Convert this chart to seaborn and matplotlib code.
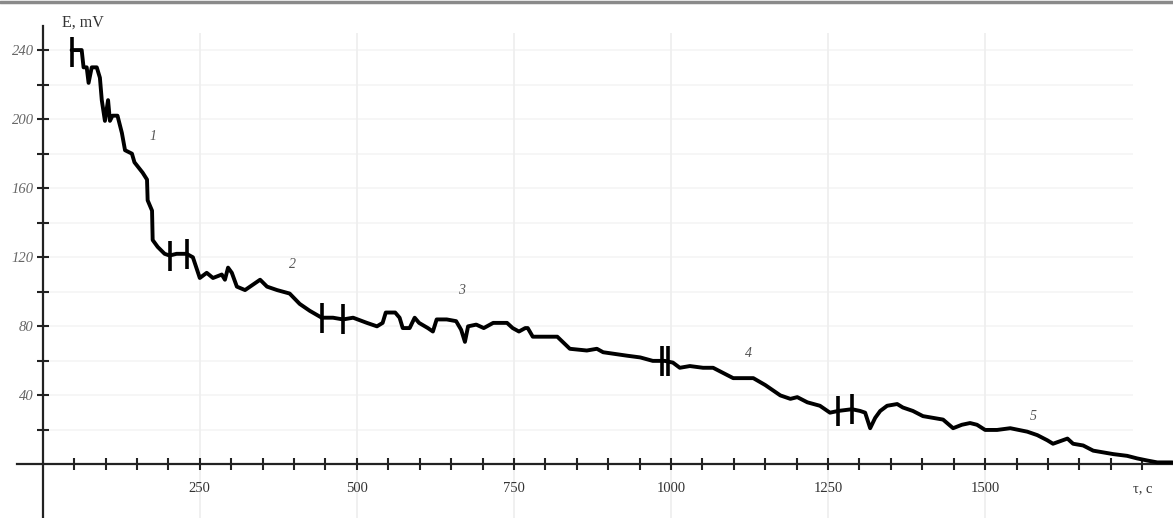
#!/bin/env python3

"""
Potential vs time curve with stage boundaries, drawn with seaborn
"""

import numpy as np
import pandas as pd
import matplotlib.pyplot as plt
from matplotlib.lines import Line2D
import seaborn as sns
sns.set_style('white')

# time, s
time_s = [46, 62, 65, 70, 73, 78, 86, 91, 94, 99, 104, 107, 111, 119, 126, 131,
          142, 146, 159, 166, 167, 174, 175, 183, 194, 202, 213, 229, 239, 250,
          261, 271, 285, 290, 295, 301, 309, 322, 334, 346, 357, 373, 393, 409,
          425, 444, 462, 478, 494, 516, 532, 541, 546, 561, 568, 573, 584, 592,
          599, 613, 621, 627, 643, 658, 666, 672, 677, 690, 702, 717, 739, 748,
          758, 768, 772, 780, 819, 839, 866, 882, 892, 930, 951, 971, 990, 1003,
          1014, 1030, 1051, 1067, 1083, 1099, 1115, 1131, 1150, 1174, 1190, 1201,
          1217, 1237, 1253, 1266, 1288, 1301, 1309, 1317, 1325, 1333, 1344, 1360,
          1369, 1385, 1401, 1417, 1433, 1449, 1463, 1476, 1487, 1500, 1519, 1540,
          1567, 1583, 1599, 1608, 1631, 1640, 1656, 1672, 1688, 1704, 1726, 1742,
          1758, 1774, 1798]
# potential, mV
potential_mv = [240, 240, 230, 230, 221, 230, 230, 224, 211, 199, 211, 199, 202,
                202, 192, 182, 180, 175, 169, 165, 153, 147, 130, 126, 122, 121,
                122, 122, 120, 108, 111, 108, 110, 107, 114, 111, 103, 101, 104,
                107, 103, 101, 99, 93, 89, 85, 85, 84, 85, 82, 80, 82, 88, 88, 85,
                79, 79, 85, 82, 79, 77, 84, 84, 83, 78, 71, 80, 81, 79, 82, 82, 79,
                77, 79, 79, 74, 74, 67, 66, 67, 65, 63, 62, 60, 60, 59, 56, 57, 56,
                56, 53, 50, 50, 50, 46, 40, 38, 39, 36, 34, 30, 31, 32, 31, 30, 21,
                27, 31, 34, 35, 33, 31, 28, 27, 26, 21, 23, 24, 23, 20, 20, 21, 19,
                17, 14, 12, 15, 12, 11, 8, 7, 6, 5, 3.5, 2.3, 1.2, 1.2]

# stage boundary marks
boundary_t = [46, 202, 229, 444, 478, 986, 995, 1266, 1288]
boundary_mv = [239, 121, 122, 85, 84, 60, 60, 31, 32]

# stage numbers and where they sit
stage_labels = ['1', '2', '3', '4', '5']
stage_t = [175, 398, 667, 1123, 1576]
stage_mv = [190, 116, 101, 64, 28]

x_major = [250, 500, 750, 1000, 1250, 1500, 1750]
x_major_labels = ['250', '500', '750', '1000', '1250', '1500', 'τ, c']
y_major = [40, 80, 120, 160, 200, 240]

df = pd.DataFrame({'t': time_s, 'E': potential_mv})

plt.rcParams['font.family'] = ['Liberation Serif', 'DejaVu Serif']

fig = plt.figure(figsize=(11.73, 5.18), dpi=100)
ax = fig.add_axes([0, 0, 1, 1])
ax.set_xlim(-68, 1799)
ax.set_ylim(-31, 269)

# faint grid
ax.hlines(np.arange(20, 260, 20), 0, 1735, color='#f5f5f5', lw=1.2, zorder=0)
ax.vlines([250, 500, 750, 1000, 1250, 1500], -31, 250, color='#eeeeee', lw=1.2, zorder=0)

sns.lineplot(data=df, x='t', y='E', ax=ax, sort=False, estimator=None,
             color='black', lw=2.8, zorder=3)
ax.plot(boundary_t, boundary_mv, ls='none', marker='|', ms=21, mew=2.6,
        color='black', zorder=4)

for lab, tx, ty in zip(stage_labels, stage_t, stage_mv):
    ax.text(tx, ty, lab, fontsize=10, style='italic', color='#555555',
            ha='center', va='center')

# axes through origin
for side in ['top', 'right']:
    ax.spines[side].set_visible(False)
ax.spines['left'].set_position(('data', 0))
ax.spines['bottom'].set_position(('data', 0))
ax.spines['left'].set_bounds(-31, 254)
ax.spines['bottom'].set_bounds(-41, 1799)
for side in ['left', 'bottom']:
    ax.spines[side].set_linewidth(1.6)
    ax.spines[side].set_color('#222222')

ax.set_xticks(x_major)
ax.set_xticklabels(x_major_labels)
ax.set_xticks(np.arange(50, 1800, 50), minor=True)
ax.set_yticks(y_major)
ax.set_yticks(np.arange(20, 260, 20), minor=True)
ax.tick_params(axis='both', which='both', direction='inout', length=9,
               width=1.5, color='#222222', bottom=True, left=True)
ax.tick_params(axis='x', which='major', pad=8, labelsize=10.5, labelcolor='#333333')
ax.tick_params(axis='y', which='major', pad=2, labelsize=10.5, labelcolor='#666666')
for lbl in ax.get_yticklabels():
    lbl.set_style('italic')
ax.set_xlabel('')
ax.set_ylabel('')

ax.text(30, 256, 'E, mV', fontsize=11.5, color='#333333', ha='left', va='center')

fig.add_artist(Line2D([0, 1], [0.996, 0.996], transform=fig.transFigure,
                      color='#8a8a8a', lw=2.5))

plt.savefig('out.png', dpi=100, facecolor='white')
plt.close()
